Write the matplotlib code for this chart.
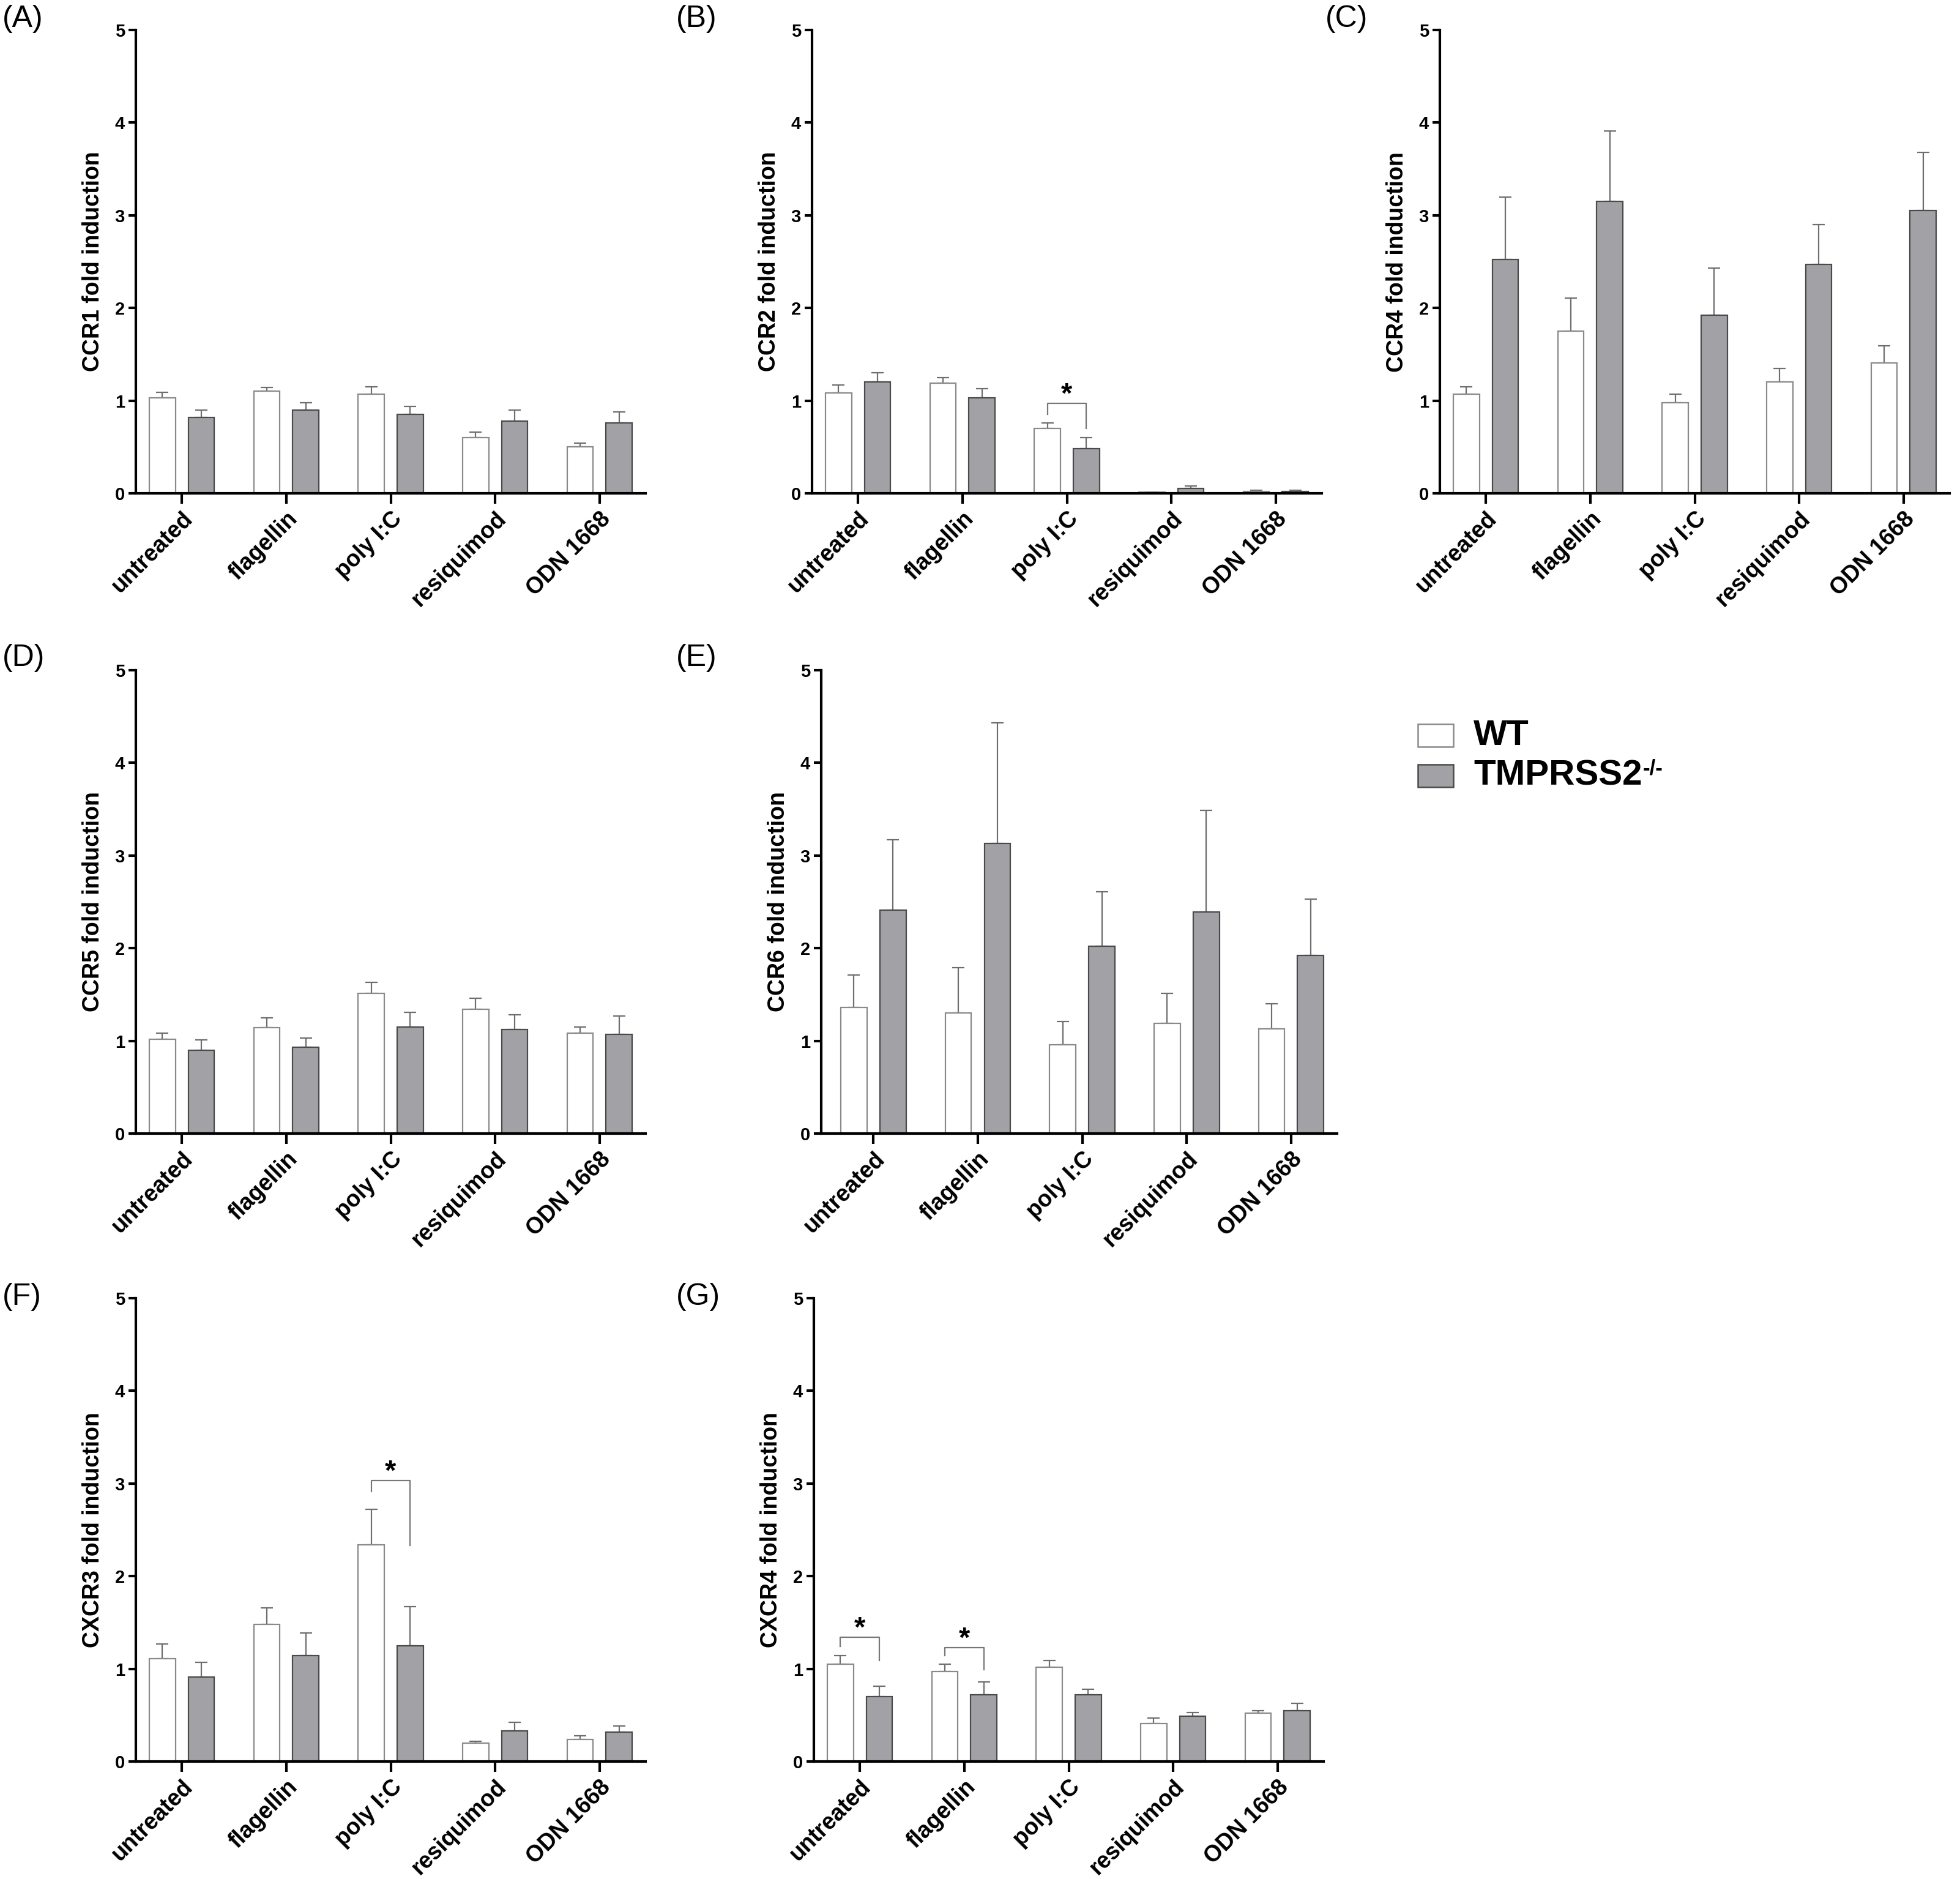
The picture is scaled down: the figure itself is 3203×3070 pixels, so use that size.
import numpy as np
import matplotlib
matplotlib.use("Agg")
import matplotlib.pyplot as plt
from matplotlib.patches import Rectangle
from matplotlib.text import Annotation

plt.rcParams['font.family'] = ['Liberation Sans', 'DejaVu Sans']

categories = ["untreated", "flagellin", "poly I:C", "resiquimod", "ODN 1668"]
series_names = ["WT", "TMPRSS2"]

ylabels = ["CCR1 fold induction", "CCR2 fold induction", "CCR4 fold induction",
           "CCR5 fold induction", "CCR6 fold induction",
           "CXCR3 fold induction", "CXCR4 fold induction"]
panel_letters = ["(A)", "(B)", "(C)", "(D)", "(E)", "(F)", "(G)"]

# means
ccr1_wt = [1.03, 1.10, 1.07, 0.60, 0.50]
ccr1_ko = [0.82, 0.90, 0.85, 0.78, 0.76]
ccr2_wt = [1.08, 1.19, 0.70, 0.01, 0.02]
ccr2_ko = [1.20, 1.03, 0.48, 0.05, 0.02]
ccr4_wt = [1.07, 1.75, 0.98, 1.20, 1.41]
ccr4_ko = [2.52, 3.15, 1.92, 2.47, 3.05]
ccr5_wt = [1.02, 1.14, 1.51, 1.34, 1.08]
ccr5_ko = [0.90, 0.93, 1.15, 1.12, 1.07]
ccr6_wt = [1.36, 1.30, 0.96, 1.19, 1.13]
ccr6_ko = [2.41, 3.13, 2.02, 2.39, 1.92]
cxcr3_wt = [1.11, 1.48, 2.34, 0.20, 0.24]
cxcr3_ko = [0.91, 1.14, 1.25, 0.33, 0.32]
cxcr4_wt = [1.05, 0.97, 1.02, 0.41, 0.52]
cxcr4_ko = [0.70, 0.72, 0.72, 0.49, 0.55]

# upper error (SEM)
ccr1_wt_err = [0.06, 0.04, 0.08, 0.06, 0.04]
ccr1_ko_err = [0.08, 0.08, 0.09, 0.12, 0.12]
ccr2_wt_err = [0.09, 0.06, 0.06, 0.005, 0.01]
ccr2_ko_err = [0.10, 0.10, 0.12, 0.03, 0.01]
ccr4_wt_err = [0.08, 0.36, 0.09, 0.15, 0.18]
ccr4_ko_err = [0.68, 0.76, 0.51, 0.43, 0.63]
ccr5_wt_err = [0.06, 0.11, 0.12, 0.12, 0.07]
ccr5_ko_err = [0.11, 0.10, 0.16, 0.16, 0.20]
ccr6_wt_err = [0.35, 0.49, 0.25, 0.32, 0.27]
ccr6_ko_err = [0.76, 1.30, 0.59, 1.10, 0.61]
cxcr3_wt_err = [0.16, 0.18, 0.38, 0.02, 0.04]
cxcr3_ko_err = [0.16, 0.25, 0.42, 0.09, 0.06]
cxcr4_wt_err = [0.09, 0.08, 0.07, 0.06, 0.03]
cxcr4_ko_err = [0.11, 0.14, 0.06, 0.04, 0.08]

wt_means = [ccr1_wt, ccr2_wt, ccr4_wt, ccr5_wt, ccr6_wt, cxcr3_wt, cxcr4_wt]
ko_means = [ccr1_ko, ccr2_ko, ccr4_ko, ccr5_ko, ccr6_ko, cxcr3_ko, cxcr4_ko]
wt_errs = [ccr1_wt_err, ccr2_wt_err, ccr4_wt_err, ccr5_wt_err, ccr6_wt_err, cxcr3_wt_err, cxcr4_wt_err]
ko_errs = [ccr1_ko_err, ccr2_ko_err, ccr4_ko_err, ccr5_ko_err, ccr6_ko_err, cxcr3_ko_err, cxcr4_ko_err]

# significance brackets: panel index, category index, top, left leg end, right leg end
sig_panels = [1, 5, 6, 6]
sig_cats = [2, 2, 0, 1]
sig_tops = [0.97, 3.03, 1.34, 1.23]
sig_left = [0.85, 2.91, 1.24, 1.14]
sig_right = [0.70, 2.33, 1.09, 0.99]

W, H = 3203, 3070
DPI = 100
fig = plt.figure(figsize=(W / DPI, H / DPI), dpi=DPI)
fig.patch.set_facecolor("white")

# axes positions in pixels: left, top, width, height, xlim-left, xlim-right
ax_px = [
    (222, 49, 833, 757, -0.44, 4.44),
    (1327, 49, 833, 757, -0.44, 4.44),
    (2353, 49, 833, 757, -0.44, 4.44),
    (222, 1095, 833, 757, -0.44, 4.44),
    (1342, 1095, 843, 757, -0.50, 4.44),
    (222, 2121, 833, 757, -0.44, 4.44),
    (1330, 2121, 833, 757, -0.44, 4.44),
]
letter_px = [(4, 8), (1105, 8), (2166, 8), (4, 1052), (1105, 1052), (4, 2096), (1105, 2096)]

WT_FACE = "white"
WT_EDGE = "#8a8a8a"
KO_FACE = "#a2a2a6"
KO_EDGE = "#4a4a4a"
ERR_COLOR = "#6e6e6e"

bw = 0.25
off = 0.187

for i in range(7):
    l, t, w, h, x0, x1 = ax_px[i]
    ax = fig.add_axes([l / W, 1 - (t + h) / H, w / W, h / H])
    x = np.arange(len(categories))
    ax.bar(x - off, wt_means[i], width=bw, color=WT_FACE, edgecolor=WT_EDGE, linewidth=1.6, zorder=2)
    ax.bar(x + off, ko_means[i], width=bw, color=KO_FACE, edgecolor=KO_EDGE, linewidth=1.6, zorder=2)
    n = len(categories)
    ax.errorbar(x - off, wt_means[i], yerr=[np.zeros(n), wt_errs[i]], fmt='none',
                ecolor=ERR_COLOR, elinewidth=1.6, capsize=7, capthick=1.6, zorder=1)
    ax.errorbar(x + off, ko_means[i], yerr=[np.zeros(n), ko_errs[i]], fmt='none',
                ecolor=ERR_COLOR, elinewidth=1.6, capsize=7, capthick=1.6, zorder=1)
    ax.set_xlim(x0, x1)
    ax.set_ylim(0, 5)
    ax.set_yticks([0, 1, 2, 3, 4, 5])
    ax.set_xticks(x)
    ax.set_xticklabels(categories, rotation=45, ha='right', rotation_mode='anchor',
                       fontsize=27, fontweight='bold')
    for lab in ax.get_yticklabels():
        lab.set_fontweight('bold')
        lab.set_fontsize(21)
    ax.tick_params(axis='x', length=12, width=3, pad=5, direction='out')
    ax.tick_params(axis='y', length=9, width=3, pad=4, direction='out')
    for s in ['top', 'right']:
        ax.spines[s].set_visible(False)
    for s in ['left', 'bottom']:
        ax.spines[s].set_linewidth(3)
    ax.set_ylabel(ylabels[i], fontsize=27, fontweight='bold', labelpad=13)
    ax.patch.set_alpha(0)

    for k in range(len(sig_panels)):
        if sig_panels[k] == i:
            c = sig_cats[k]
            xl, xr = c - off, c + off
            ax.plot([xl, xl, xr, xr], [sig_left[k], sig_tops[k], sig_tops[k], sig_right[k]],
                    color="#777777", lw=1.6, zorder=3)
            ax.text(c, sig_tops[k] + 0.01, "*", ha='center', va='baseline',
                    fontsize=34, fontweight='bold')

    lx, ly = letter_px[i]
    fig.text(lx / W, 1 - ly / H, panel_letters[i], fontsize=36, ha='left', va='top')

# legend
sq = 58
for j, (face, edge) in enumerate([(WT_FACE, WT_EDGE), (KO_FACE, KO_EDGE)]):
    y0 = 1183 + j * 66
    r = Rectangle((2317 / W, 1 - (y0 + 37) / H), sq / W, 37 / H, transform=fig.transFigure,
                  facecolor=face, edgecolor=edge, linewidth=1.8)
    fig.patches.append(r)
    t = fig.text(2408 / W, 1 - (y0 + 19) / H, series_names[j], fontsize=42, fontweight='bold',
                 ha='left', va='center')
    if j == 1:
        sup = Annotation("-/-", xy=(1, 1), xycoords=t, xytext=(1, 1), textcoords='offset points',
                         fontsize=25, fontweight='bold', ha='left', va='top')
        fig.add_artist(sup)

fig.savefig("out.png", dpi=DPI, facecolor="white")
